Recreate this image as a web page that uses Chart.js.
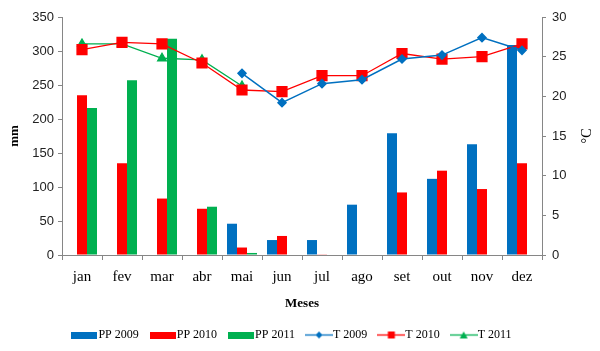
<!DOCTYPE html>
<html>
<head>
<meta charset="utf-8">
<script src="https://cdn.jsdelivr.net/npm/chart.js@4"></script>
<style>
    html, body { margin: 0; padding: 0; background: #fff; }
    #wrap { width: 600px; height: 351px; }
</style>
</head>
<body>
<div id="wrap"><canvas id="grafico" width="600" height="351"></canvas></div>
<script>
// Data
const meses = ["jan", "fev", "mar", "abr", "mai", "jun", "jul", "ago", "set", "out", "nov", "dez"];

// precipitation (mm) - left axis
const pp2009 = [null, null, null, null, 46, 22, 22, 74, 179, 112, 163, 309];
const pp2010 = [235, 135, 83, 68, 11, 28, 1, 0, 92, 124, 97, 135];
const pp2011 = [216, 257, 318, 71, 3, null, null, null, null, null, null, null];

// temperature (°C) - right axis
const t2009 = [null, null, null, null, 22.9, 19.2, 21.6, 22.1, 24.7, 25.2, 27.4, 25.8];
const t2010 = [25.9, 26.8, 26.6, 24.2, 20.8, 20.6, 22.6, 22.6, 25.4, 24.7, 25.0, 26.6];
const t2011 = [26.6, 26.6, 24.8, 24.6, 21.3, null, null, null, null, null, null, null];

const tituloX = "Meses";
const tituloY = "mm";
const tituloY1 = "°C";

const azul = "#0070C0";
const vermelho = "#FF0000";
const verde = "#00B050";
const eixoCor = "#868686";
const fonte = "'Liberation Serif', 'Times New Roman', serif";
const fonteNum = "'Liberation Sans', Arial, sans-serif";

//#region legend symbols
function simboloBarra(cor) {
    const c = document.createElement("canvas");
    c.width = 26;
    c.height = 7;
    const g = c.getContext("2d");
    g.fillStyle = cor;
    g.fillRect(0, 0, 26, 7);
    return c;
}

function simboloLinha(cor, marca) {
    const c = document.createElement("canvas");
    c.width = 28;
    c.height = 11;
    const g = c.getContext("2d");
    g.strokeStyle = cor;
    g.fillStyle = cor;
    g.lineWidth = 1.3;
    g.beginPath();
    g.moveTo(0, 5.5);
    g.lineTo(28, 5.5);
    g.stroke();
    g.beginPath();
    if (marca === "losango") {
        g.moveTo(14, 2);
        g.lineTo(17.5, 5.5);
        g.lineTo(14, 9);
        g.lineTo(10.5, 5.5);
    } else if (marca === "quadrado") {
        g.rect(10.5, 2, 7, 7);
    } else {
        g.moveTo(14, 2);
        g.lineTo(18, 9);
        g.lineTo(10, 9);
    }
    g.closePath();
    g.fill();
    return c;
}
//#endregion

// draws the right axis title rotated like the original (bottom to top)
const tituloDireita = {
    id: "tituloDireita",
    afterDraw(chart) {
        const area = chart.chartArea;
        const ctx = chart.ctx;
        ctx.save();
        ctx.translate(587, (area.top + area.bottom) / 2);
        ctx.rotate(-Math.PI / 2);
        ctx.font = "14px " + fonte;
        ctx.fillStyle = "#000";
        ctx.textAlign = "center";
        ctx.textBaseline = "middle";
        ctx.fillText(tituloY1, 0, 0);
        ctx.restore();
    }
};

let data = {
    labels: meses,
    datasets: [
        { type: "bar", label: "PP 2009", data: pp2009, backgroundColor: azul, yAxisID: "y", order: 2 },
        { type: "bar", label: "PP 2010", data: pp2010, backgroundColor: vermelho, yAxisID: "y", order: 2 },
        { type: "bar", label: "PP 2011", data: pp2011, backgroundColor: verde, yAxisID: "y", order: 2 },
        {
            type: "line", label: "T 2009", data: t2009, yAxisID: "y1", order: 1,
            borderColor: azul, backgroundColor: azul, borderWidth: 1.5,
            pointStyle: "rectRot", pointRadius: 4, pointHoverRadius: 4
        },
        {
            type: "line", label: "T 2010", data: t2010, yAxisID: "y1", order: 1,
            borderColor: vermelho, backgroundColor: vermelho, borderWidth: 1.3,
            pointStyle: "rect", pointRadius: 7, pointHoverRadius: 7
        },
        {
            type: "line", label: "T 2011", data: t2011, yAxisID: "y1", order: 1,
            borderColor: verde, backgroundColor: verde, borderWidth: 1.3,
            pointStyle: "triangle", pointRadius: 5, pointHoverRadius: 5
        }
    ]
};

const legendaSimbolos = [
    simboloBarra(azul), simboloBarra(vermelho), simboloBarra(verde),
    simboloLinha(azul, "losango"), simboloLinha(vermelho, "quadrado"), simboloLinha(verde, "triangulo")
];

let config = {
    type: "bar",
    data: data,
    plugins: [tituloDireita],
    options: {
        responsive: false,
        animation: false,
        barPercentage: 1,
        categoryPercentage: 0.75,
        // extra right padding only shifts the legend a bit to the left
        layout: { padding: { left: 4, right: 16, top: 17, bottom: 0 } },
        scales: {
            x: {
                offset: true,
                grid: { offset: true, drawOnChartArea: false, drawTicks: true, tickLength: 5, color: eixoCor },
                border: { color: eixoCor },
                ticks: { color: "#000", padding: 8, font: { family: fonte, size: 15 } },
                title: { display: true, text: tituloX, color: "#000", padding: { top: 0, bottom: 2 }, font: { family: fonte, size: 13, weight: "bold" } },
                afterFit: (s) => { s.height = 58; }
            },
            y: {
                position: "left",
                min: 0,
                max: 350,
                ticks: { stepSize: 50, color: "#222", padding: 4, font: { family: fonteNum, size: 13 } },
                grid: { drawOnChartArea: false, tickLength: 4, color: eixoCor },
                border: { color: eixoCor },
                title: { display: true, text: tituloY, color: "#000", padding: { top: 3, bottom: 0 }, font: { family: fonte, size: 13, weight: "bold" } },
                afterFit: (s) => { s.width = 58; }
            },
            y1: {
                position: "right",
                min: 0,
                max: 30,
                ticks: { stepSize: 5, color: "#222", padding: 6, font: { family: fonteNum, size: 13 } },
                grid: { drawOnChartArea: false, tickLength: 4, color: eixoCor },
                border: { color: eixoCor },
                afterFit: (s) => { s.width = 42; }
            }
        },
        plugins: {
            tooltip: { enabled: false },
            legend: {
                position: "bottom",
                labels: {
                    usePointStyle: true,
                    pointStyleWidth: 16,
                    padding: 16,
                    color: "#000",
                    font: { family: fonte, size: 12 },
                    sort: (a, b) => a.datasetIndex - b.datasetIndex,
                    generateLabels: (chart) => {
                        const itens = Chart.defaults.plugins.legend.labels.generateLabels(chart);
                        itens.forEach((it) => {
                            it.pointStyle = legendaSimbolos[it.datasetIndex];
                        });
                        return itens;
                    }
                }
            }
        }
    }
};

const ctx = document.getElementById("grafico");
const grafico = new Chart(ctx, config);
</script>
</body>
</html>
